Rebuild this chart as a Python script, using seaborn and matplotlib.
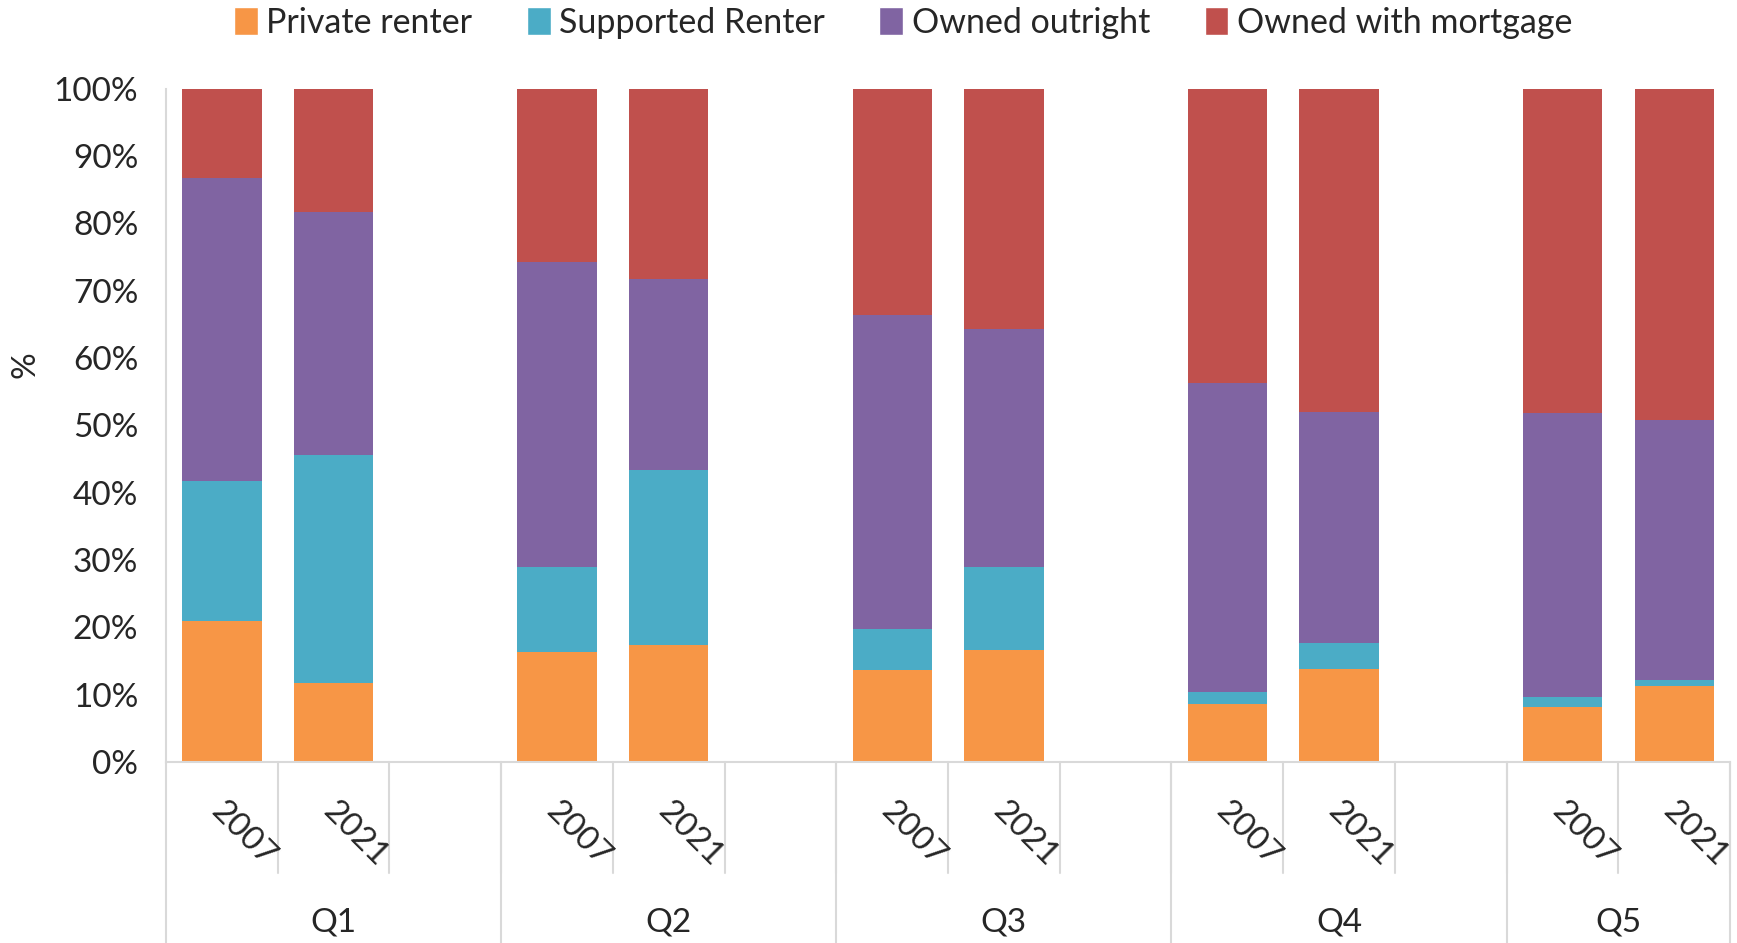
import numpy as np
import pandas as pd
import seaborn as sns
from matplotlib import pyplot as plt
from matplotlib.patches import Patch

quintiles = ["Q1", "Q2", "Q3", "Q4", "Q5"]
years = ["2007", "2021"]
tenures = ["Private renter", "Supported Renter", "Owned outright", "Owned with mortgage"]
colors = ["#F79646", "#4BACC6", "#8064A2", "#C0504D"]

# per bar, order: Q1 2007, Q1 2021, Q2 2007, ... Q5 2021 (%)
private = [21.0, 11.7, 16.3, 17.3, 13.7, 16.6, 8.6, 13.8, 8.1, 11.3]
supported = [20.8, 33.9, 12.6, 26.1, 6.0, 12.3, 1.8, 3.8, 1.6, 0.9]
outright = [44.9, 36.1, 45.3, 28.3, 46.7, 35.4, 45.9, 34.4, 42.1, 38.6]
mortgage = [13.3, 18.3, 25.8, 28.3, 33.6, 35.7, 43.7, 48.0, 48.2, 49.2]

sns.set_style("white")
plt.rcParams['font.family'] = ['Lato', 'DejaVu Sans']

# slots: each quintile gets 2007, 2021 and an empty gap (except the last)
order = []
for i, q in enumerate(quintiles):
    order += [f"{q} {y}" for y in years]
    if i < len(quintiles) - 1:
        order.append(f"{q} gap")

df = pd.DataFrame({
    'slot': [f"{q} {y}" for q in quintiles for y in years],
    'Private renter': private,
    'Supported Renter': supported,
    'Owned outright': outright,
    'Owned with mortgage': mortgage,
})
cum = df[tenures].cumsum(axis=1)

fig = plt.figure(figsize=(17.37, 9.43), dpi=100)
ax = fig.add_axes([0.0956, 0.192, 0.9004, 0.714])

# draw cumulative layers from top down so lower ones overlay
for t, c in reversed(list(zip(tenures, colors))):
    sns.barplot(x=df['slot'], y=cum[t], order=order, color=c, saturation=1,
                width=0.71, errorbar=None, linewidth=0, ax=ax)

ax.set_xlim(-0.5, len(order) - 0.5)
ax.set_ylim(0, 100)
ax.set_yticks(np.arange(0, 101, 10))
ax.set_yticklabels([f"{v}%" for v in range(0, 101, 10)], fontsize=24)
ax.tick_params(axis='y', length=0, pad=20)
ax.set_xticks([])
ax.set_xlabel("")
ax.set_ylabel("%", fontsize=24)
ax.yaxis.set_label_coords(-0.08, 0.59)
for s in ['top', 'right']:
    ax.spines[s].set_visible(False)
for s in ['left', 'bottom']:
    ax.spines[s].set_color('#D9D9D9')
    ax.spines[s].set_linewidth(1.5)

trans = ax.get_xaxis_transform()
# year labels and short separators
for i, s in enumerate(order):
    if s.endswith("gap"):
        continue
    ax.text(i + 0.04, -0.05, s.split()[1], transform=trans, rotation=-45,
            rotation_mode='anchor', ha='left', va='top', fontsize=24)
for i in range(len(order)):
    ax.plot([i + 0.5, i + 0.5], [0, -0.165], transform=trans, color='#D9D9D9',
            lw=1.5, clip_on=False)

# group separators and quintile labels
starts = [order.index(f"{q} 2007") for q in quintiles]
ends = starts[1:] + [len(order)]
for q, a, b in zip(quintiles, starts, ends):
    ax.plot([a - 0.5, a - 0.5], [0, -0.27], transform=trans, color='#D9D9D9',
            lw=1.5, clip_on=False)
    ax.text((a + b - 1) / 2, -0.238, q, transform=trans, ha='center', va='center',
            fontsize=24)
ax.plot([len(order) - 0.5] * 2, [0, -0.27], transform=trans, color='#D9D9D9',
        lw=1.5, clip_on=False)

handles = [Patch(facecolor=c, label=t) for t, c in zip(tenures, colors)]
fig.legend(handles=handles, loc='upper center', bbox_to_anchor=(0.52, 1.025), ncol=4,
           frameon=False, fontsize=24.5, handlelength=0.7, handleheight=0.9,
           handletextpad=0.25, columnspacing=1.6)

plt.savefig("out.png", dpi=100)
